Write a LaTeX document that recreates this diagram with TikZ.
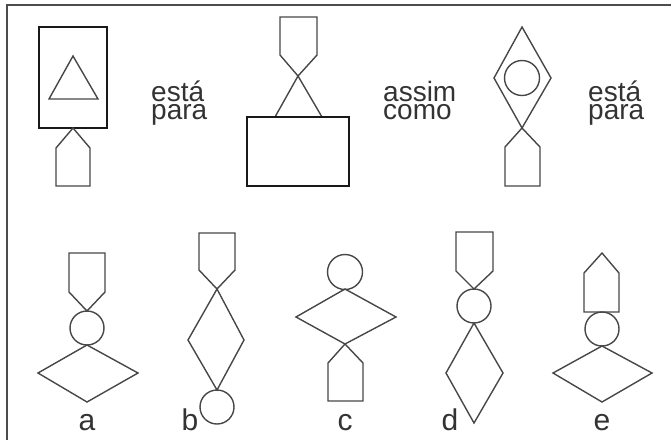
\documentclass[tikz,border=0pt]{standalone}
\usepackage{fontspec}
\setmainfont{Liberation Sans}
\usepackage{tikz}
\usetikzlibrary{%
  calc,
  positioning
}

\begin{document}
\begin{tikzpicture}[x=1pt, y=-1pt,
    shape line/.style = {draw=black!72, line width=1.4pt, line join=miter},
    box line/.style   = {draw=black!90, line width=1.5pt},
    frame/.style      = {draw=black!70, line width=1.6pt},
    word/.style       = {font=\fontsize{28}{18}\selectfont, text=black!80,
                         align=left, inner sep=0pt, anchor=base west},
    letter/.style     = {font=\fontsize{30}{30}\selectfont, text=black!80,
                         inner sep=0pt, anchor=base}]
    \useasboundingbox (0,0) rectangle (671,440);
    \draw [frame] (7,440) -- (7,5) -- (671,5);

    % top row
    \draw [box line]   (39,27) rectangle (107,128);
    \draw [shape line] (73,56) -- (98,99) -- (49,99) -- cycle;
    \draw [shape line] (73,128) -- (90,148) -- (90,186) -- (56,186) -- (56,148) -- cycle;

    \draw [shape line] (280,17) -- (317,17) -- (317,55) -- (298,76) -- (280,55) -- cycle;
    \draw [shape line] (275,117) -- (298,76) -- (322,117);
    \draw [box line]   (247,117) rectangle (349,186);

    \draw [shape line] (522,27) -- (551,78) -- (522,128) -- (494,78) -- cycle;
    \draw [shape line] (522,78) circle [radius=17.5];
    \draw [shape line] (522,128) -- (540,147) -- (540,186) -- (505,186) -- (505,147) -- cycle;

    % last baseline of each two-line text
    \node [word] (esta1)  at (151,119) {está\\para};
    \node [word] (assim)  at (383,119) {assim\\como};
    \node [word] (esta2)  at (588,119) {está\\para};

    % bottom row
    \draw [shape line] (69,253) -- (105,253) -- (105,292) -- (87,311) -- (69,292) -- cycle;
    \draw [shape line] (87,328) circle [radius=17];
    \draw [shape line] (87,345) -- (138,373) -- (87,402) -- (38,373) -- cycle;

    \draw [shape line] (199,233) -- (235,233) -- (235,270) -- (217,289) -- (199,270) -- cycle;
    \draw [shape line] (217,289) -- (244,340) -- (217,390) -- (188,340) -- cycle;
    \draw [shape line] (217,407) circle [radius=17];

    \draw [shape line] (345,272) circle [radius=17.5];
    \draw [shape line] (345,289) -- (396,317) -- (345,344) -- (296,317) -- cycle;
    \draw [shape line] (345,344) -- (363,363) -- (363,401) -- (328,401) -- (328,363) -- cycle;

    \draw [shape line] (456,232) -- (493,232) -- (493,271) -- (474,289) -- (456,271) -- cycle;
    \draw [shape line] (474,306) circle [radius=17];
    \draw [shape line] (474,323) -- (503,373) -- (474,423) -- (446,373) -- cycle;

    \draw [shape line] (602,253) -- (619,273) -- (619,312) -- (584,312) -- (584,273) -- cycle;
    \draw [shape line] (602,329) circle [radius=17];
    \draw [shape line] (602,346) -- (652,373) -- (602,402) -- (553,373) -- cycle;

    \foreach \x/\l in {87/a, 190/b, 345/c, 450/d, 602/e}
      \node [letter] (opt-\l) at (\x,430) {\l};
\end{tikzpicture}
\end{document}
